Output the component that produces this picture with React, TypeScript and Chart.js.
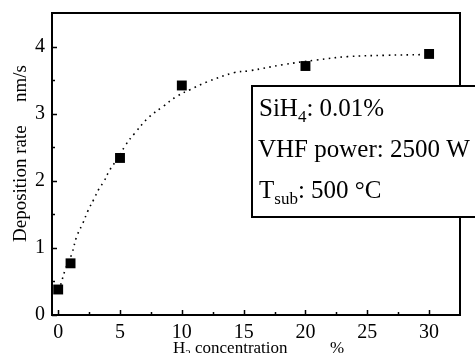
import React, { useEffect, useRef } from "react";
import { Chart, registerables } from "chart.js";

Chart.register(...registerables);

// Measured data points
const h2Concentration = [0, 1, 5, 10, 20, 30];
const depositionRate = [0.38, 0.77, 2.34, 3.42, 3.71, 3.89];

// Dotted fit curve
const fitX = [0.2, 0.6, 1.1, 1.5, 2.0, 2.4, 2.9, 3.3, 3.7, 4.2, 5.0, 5.4, 6.2, 7.3, 8.5, 9.6, 10.7, 12.0, 14.2, 15.5, 18.2, 20.9, 23.4, 26.5, 29.5];
const fitY = [0.45, 0.69, 0.91, 1.17, 1.37, 1.55, 1.73, 1.88, 1.99, 2.17, 2.38, 2.52, 2.71, 2.94, 3.11, 3.26, 3.36, 3.47, 3.61, 3.64, 3.73, 3.8, 3.85, 3.87, 3.88];

const xTicks = [0, 5, 10, 15, 20, 25, 30];
const xMinorTicks = [2.5, 7.5, 12.5, 17.5, 22.5, 27.5];
const yTicks = [0, 1, 2, 3, 4];
const yMinorTicks = [0.5, 1.5, 2.5, 3.5];

const SERIF = "'Liberation Serif', 'Times New Roman', serif";

type Part = { t: string; sub?: boolean };

function drawRich(ctx: CanvasRenderingContext2D, parts: Part[], x: number, y: number, size: number) {
  let cx = x;
  for (const p of parts) {
    const fs = p.sub ? Math.round(size * 0.66) : size;
    ctx.font = `${fs}px ${SERIF}`;
    const dy = p.sub ? size * 0.22 : 0;
    ctx.fillText(p.t, cx, y + dy);
    cx += ctx.measureText(p.t).width;
  }
}

const overlay = {
  id: "overlay",
  afterDraw(chart: any) {
    const { ctx, chartArea: a, scales } = chart;
    const xs = scales.x;
    const ys = scales.y;
    ctx.save();
    ctx.strokeStyle = "#000";
    ctx.fillStyle = "#000";
    // frame
    ctx.lineWidth = 2;
    ctx.strokeRect(a.left, a.top, a.right - a.left, a.bottom - a.top);
    // inward ticks
    ctx.lineWidth = 1.5;
    ctx.beginPath();
    for (const v of xTicks) {
      const px = Math.round(xs.getPixelForValue(v)) + 0.5;
      ctx.moveTo(px, a.bottom);
      ctx.lineTo(px, a.bottom - 5);
    }
    for (const v of xMinorTicks) {
      const px = Math.round(xs.getPixelForValue(v)) + 0.5;
      ctx.moveTo(px, a.bottom);
      ctx.lineTo(px, a.bottom - 3);
    }
    for (const v of yTicks) {
      const py = Math.round(ys.getPixelForValue(v)) + 0.5;
      ctx.moveTo(a.left, py);
      ctx.lineTo(a.left + 5, py);
    }
    for (const v of yMinorTicks) {
      const py = Math.round(ys.getPixelForValue(v)) + 0.5;
      ctx.moveTo(a.left, py);
      ctx.lineTo(a.left + 3, py);
    }
    ctx.stroke();

    // annotation box
    const bx = 252, by = 86, bw = 240, bh = 131;
    ctx.fillStyle = "#fff";
    ctx.fillRect(bx, by, bw, bh);
    ctx.lineWidth = 2;
    ctx.strokeRect(bx, by, bw, bh);
    ctx.fillStyle = "#000";
    ctx.textAlign = "left";
    ctx.textBaseline = "alphabetic";
    drawRich(ctx, [{ t: "SiH" }, { t: "4", sub: true }, { t: ": 0.01%" }], 259, 116, 25);
    drawRich(ctx, [{ t: "VHF power: 2500 W" }], 258, 157, 25);
    drawRich(ctx, [{ t: "T" }, { t: "sub", sub: true }, { t: ": 500 °C" }], 259, 198, 25);

    // x title
    drawRich(ctx, [{ t: "H" }, { t: "2", sub: true }, { t: " concentration" }], 173, 353, 17);
    ctx.font = `17px ${SERIF}`;
    ctx.fillText("%", 330, 353);

    // y title
    ctx.save();
    ctx.translate(26, 242);
    ctx.rotate(-Math.PI / 2);
    ctx.font = `19px ${SERIF}`;
    ctx.fillText("Deposition rate", 0, 0);
    ctx.textAlign = "right";
    ctx.fillText("nm/s", 242 - 65, 0);
    ctx.restore();

    ctx.restore();
  },
};

export default function App() {
  const ref = useRef<HTMLCanvasElement | null>(null);
  useEffect(() => {
    document.body.style.margin = "0";
    const canvas = ref.current!;
    const chart = new Chart(canvas, {
      type: "scatter",
      data: {
        datasets: [
          {
            label: "fit",
            data: fitX.map((x, i) => ({ x, y: fitY[i] })),
            showLine: true,
            borderColor: "#000",
            borderWidth: 1.6,
            borderDash: [1.6, 4.4],
            pointRadius: 0,
            tension: 0.4,
            fill: false,
          },
          {
            label: "data",
            data: h2Concentration.map((x, i) => ({ x, y: depositionRate[i] })),
            pointStyle: "rect",
            pointRadius: 7,
            backgroundColor: "#000",
            borderColor: "#000",
            borderWidth: 0,
          },
        ],
      },
      options: {
        responsive: false,
        animation: false,
        layout: { padding: { top: 13, right: 15, left: 0, bottom: 0 } },
        plugins: { legend: { display: false }, tooltip: { enabled: false } },
        scales: {
          x: {
            type: "linear",
            min: -0.5,
            max: 32.5,
            afterBuildTicks: (s: any) => {
              s.ticks = xTicks.map((v) => ({ value: v }));
            },
            afterFit: (s: any) => {
              s.height = 38;
              s.paddingLeft = 0;
              s.paddingRight = 0;
            },
            grid: { display: false, drawTicks: false },
            border: { display: false },
            ticks: {
              color: "#000",
              font: { family: SERIF, size: 20 },
              padding: 6,
              maxRotation: 0,
              autoSkip: false,
            },
          },
          y: {
            type: "linear",
            min: 0,
            max: 4.5,
            afterBuildTicks: (s: any) => {
              s.ticks = yTicks.map((v) => ({ value: v }));
            },
            afterFit: (s: any) => {
              s.width = 52;
              s.paddingTop = 0;
              s.paddingBottom = 0;
            },
            grid: { display: false, drawTicks: false },
            border: { display: false },
            ticks: {
              color: "#000",
              font: { family: SERIF, size: 20 },
              padding: 7,
              autoSkip: false,
            },
          },
        },
      },
      plugins: [overlay],
    });
    return () => chart.destroy();
  }, []);
  return (
    <div style={{ width: 475, height: 353, background: "#fff" }}>
      <canvas ref={ref} width={475} height={353} />
    </div>
  );
}
